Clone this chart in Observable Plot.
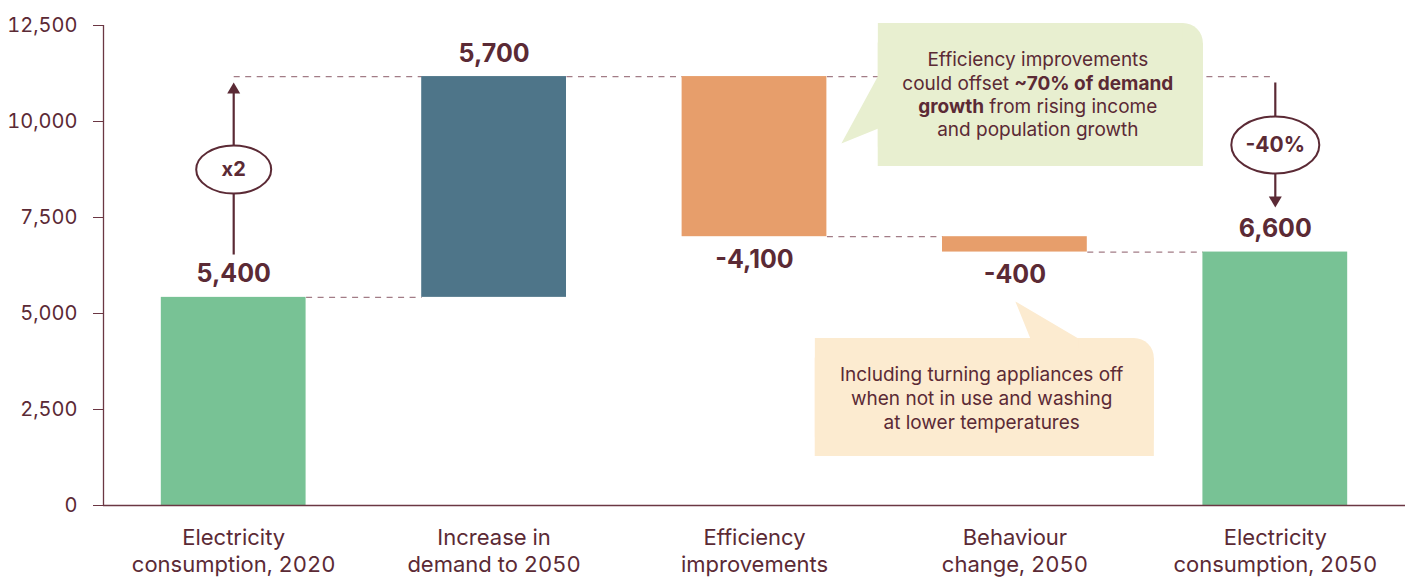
<!DOCTYPE html>
<html><head><meta charset="utf-8">
<script src="https://cdn.jsdelivr.net/npm/d3@7"></script>
<script src="https://cdn.jsdelivr.net/npm/@observablehq/plot@0.6"></script>
<style>body{margin:0;background:#fff;font-family:Inter,sans-serif;}</style>
</head><body><div id="chart"></div>
<script>
// ---- data ----
const categories = ["Electricity\nconsumption, 2020", "Increase in\ndemand to 2050", "Efficiency\nimprovements", "Behaviour\nchange, 2050", "Electricity\nconsumption, 2050"];
const values = [5420, 5750, -4170, -400, 6600];
const valueLabels = ["5,400", "5,700", "-4,100", "-400", "6,600"];
const kinds = ["total", "increase", "decrease", "decrease", "total"];
const yTicks = [0, 2500, 5000, 7500, 10000, 12500];
const growthLabel = "x2";
const changeLabel = "-40%";
const noteEfficiency = [["Efficiency improvements"], ["could offset ", "~70% of demand"], ["growth", " from rising income"], ["and population growth"]];
const noteBehaviour = "Including turning appliances off\nwhen not in use and washing\nat lower temperatures";

// ---- styles ----
const colors = {total: "#78c295", increase: "#4e7589", decrease: "#e79e6b"};
const ink = "#5b2a35";
const axisInk = "#6b3743";
const dashInk = "#a27c86";
const hw = 0.278; // half bar width in category units
const noteSize = 19;

// ---- waterfall build ----
let running = 0;
const bars = values.map((v, i) => {
  let y1, y2;
  if (kinds[i] === "total") { y1 = 0; y2 = v; running = v; }
  else { y1 = running; y2 = running + v; running = y2; }
  return {i, y1, y2, end: y2, kind: kinds[i], label: valueLabels[i], up: v >= 0};
});
const connectors = bars.slice(0, -1).map((b, i) => ({x1: i + hw, x2: i + 1 - hw, y: b.end}));
const peak = bars[1].end;
connectors.push({x1: 0, x2: 1 - hw, y: peak});
connectors.push({x1: 2 + hw, x2: 4, y: peak});

// ---- symbols ----
function ellipse(rx, ry) {
  const k = 0.5522847498;
  return {draw(c) {
    c.moveTo(rx, 0);
    c.bezierCurveTo(rx, ry * k, rx * k, ry, 0, ry);
    c.bezierCurveTo(-rx * k, ry, -rx, ry * k, -rx, 0);
    c.bezierCurveTo(-rx, -ry * k, -rx * k, -ry, 0, -ry);
    c.bezierCurveTo(rx * k, -ry, rx, -ry * k, rx, 0);
    c.closePath();
  }};
}
const headUp = {draw(c) { c.moveTo(0, 0); c.lineTo(6.5, 11); c.lineTo(-6.5, 11); c.closePath(); }};
const headDown = {draw(c) { c.moveTo(0, 0); c.lineTo(6.5, -11); c.lineTo(-6.5, -11); c.closePath(); }};

// ---- callout geometry (data units) ----
const pxX = 1 / 260.4, pxY = 12500 / 480;
function callout(x1, x2, y1, y2, fill, r) {
  return [
    Plot.rect([0], {x1: () => x1, x2: () => x2, y1: () => y1, y2: () => y2, fill, rx: r}),
    Plot.rect([0], {x1: () => x1, x2: () => x2 - r * pxX, y1: () => y1, y2: () => y2, fill}),
    Plot.rect([0], {x1: () => x1, x2: () => x2, y1: () => y1, y2: () => y2 - r * pxY, fill})
  ];
}
const greenFill = "#e8efd0", beigeFill = "#fcebd0";
const tailGreen = [{x: 2.3336, y: 9427}, {x: 2.4756, y: 11198}, {x: 2.52, y: 11198}, {x: 2.52, y: 9818}, {x: 2.4756, y: 9818}];
const tailBeige = [{x: 3.0017, y: 5313}, {x: 3.0593, y: 4349}, {x: 3.0593, y: 4100}, {x: 3.2436, y: 4100}, {x: 3.2436, y: 4349}];

// ---- mixed-weight lines ----
const cv = document.createElement("canvas").getContext("2d");
function tw(t, bold, size) { cv.font = `${bold ? "700 " : "400 "}${size}px Inter`; return cv.measureText(t).width; }
const noteCx = 3.088, noteYs = [11615, 10990, 10391, 9792];
const boldParts = new Set(["~70% of demand", "growth"]);
const noteParts = [];
noteEfficiency.forEach((parts, li) => {
  const widths = parts.map(p => tw(p, boldParts.has(p), noteSize));
  const total = d3.sum(widths);
  let off = -total / 2;
  parts.forEach((p, pi) => {
    noteParts.push({x: noteCx + off * pxX, y: noteYs[li], t: p, bold: boldParts.has(p)});
    off += widths[pi];
  });
});

const chart = Plot.plot({
  width: 1408, height: 577,
  marginLeft: 103, marginRight: 3, marginTop: 25, marginBottom: 72,
  style: {fontFamily: "Inter, sans-serif", color: ink, background: "#fff"},
  x: {type: "linear", domain: [-0.5, 4.5]},
  y: {domain: [0, 12500]},
  marks: [
    Plot.axisY(yTicks, {tickFormat: d3.format(","), tickSize: 10, tickPadding: 16, fontSize: 20, label: null, stroke: axisInk}),
    Plot.axisX([0, 1, 2, 3, 4], {tickFormat: i => categories[i], tickSize: 0, tickPadding: 21, fontSize: 22, lineHeight: 1.21, label: null}),
    Plot.ruleX([-0.5], {y1: 0, y2: 12500, stroke: axisInk, strokeWidth: 1.3}),
    Plot.link(connectors, {x1: "x1", x2: "x2", y1: "y", y2: "y", stroke: dashInk, strokeDasharray: "6,5.5", strokeWidth: 1.2}),
    Plot.rect(bars, {x1: d => d.i - hw, x2: d => d.i + hw, y1: "y1", y2: "y2", fill: d => colors[d.kind]}),
    Plot.ruleY([0], {stroke: axisInk, strokeWidth: 1.3}),
    Plot.text(bars.filter(d => d.up), {x: "i", y: "end", text: "label", dy: -23, fontSize: 25, fontWeight: 700, fill: ink}),
    Plot.text(bars.filter(d => !d.up), {x: "i", y: "end", text: "label", dy: 23, fontSize: 25, fontWeight: 700, fill: ink}),
    // callouts
    ...callout(2.4756, 3.7237, 8828, 12552, greenFill, 20),
    Plot.line(tailGreen, {x: "x", y: "y", fill: greenFill, stroke: "none"}),
    ...callout(2.2337, 3.5355, 1276, 4349, beigeFill, 20),
    Plot.line(tailBeige, {x: "x", y: "y", fill: beigeFill, stroke: "none"}),
    Plot.text(noteParts.filter(d => !d.bold), {x: "x", y: "y", text: "t", textAnchor: "start", fontSize: noteSize, fill: ink}),
    Plot.text(noteParts.filter(d => d.bold), {x: "x", y: "y", text: "t", textAnchor: "start", fontSize: noteSize, fontWeight: 700, fill: ink}),
    Plot.text([noteBehaviour], {x: () => 2.8723, y: () => 2812, text: d => d, fontSize: noteSize, lineHeight: 1.25, fill: ink}),
    // growth arrow
    Plot.link([0], {x1: () => 0, x2: () => 0, y1: () => 6536, y2: () => 10800, stroke: ink, strokeWidth: 2.2}),
    Plot.dot([0], {x: () => 0, y: () => 11016, symbol: headUp, fill: ink, stroke: "none", r: 5}),
    Plot.dot([0], {x: () => 0, y: () => 8750, symbol: ellipse(37.5, 24), fill: "white", stroke: ink, strokeWidth: 2, r: 5}),
    Plot.text([growthLabel], {x: () => 0, y: () => 8750, text: d => d, fontSize: 20, fontWeight: 700, fill: ink}),
    // change arrow
    Plot.link([0], {x1: () => 4, x2: () => 4, y1: () => 11016, y2: () => 8000, stroke: ink, strokeWidth: 2.2}),
    Plot.dot([0], {x: () => 4, y: () => 7760, symbol: headDown, fill: ink, stroke: "none", r: 5}),
    Plot.dot([0], {x: () => 4, y: () => 9388, symbol: ellipse(44, 28.5), fill: "white", stroke: ink, strokeWidth: 2, r: 5}),
    Plot.text([changeLabel], {x: () => 4, y: () => 9388, text: d => d, fontSize: 21, fontWeight: 700, fill: ink})
  ]
});
document.getElementById("chart").appendChild(chart);
</script>
</body></html>
